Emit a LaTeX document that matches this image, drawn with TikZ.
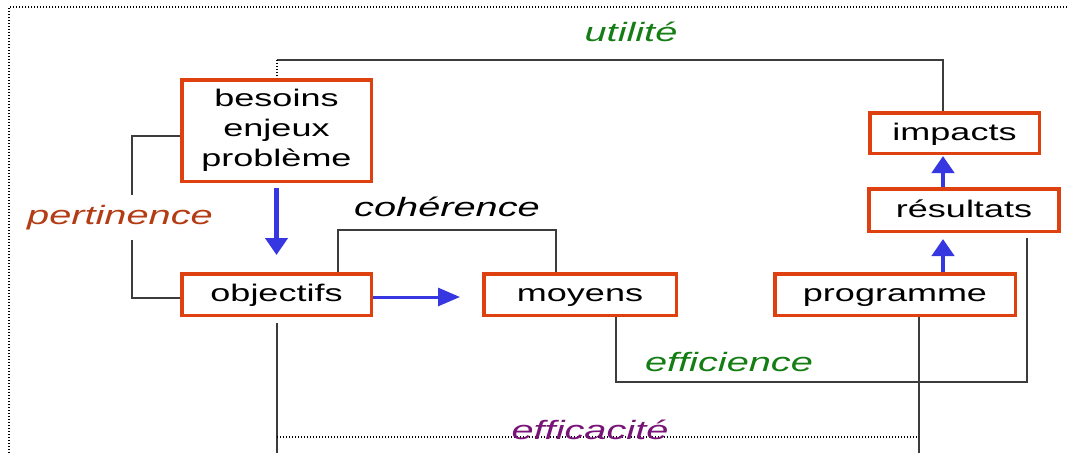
\documentclass[tikz,border=0pt]{standalone}
\usepackage{fontspec}
\setmainfont{Liberation Sans}[FakeStretch=1.5]
\usetikzlibrary{arrows.meta}
\definecolor{boxred}{RGB}{222,64,16}
\definecolor{arrblue}{RGB}{55,55,225}
\definecolor{lblgreen}{RGB}{20,125,20}
\definecolor{lblbrown}{RGB}{180,60,20}
\definecolor{lblpurple}{RGB}{120,20,120}
\definecolor{conngray}{RGB}{60,60,60}
\begin{document}
\begin{tikzpicture}[x=1pt,y=-1pt,
  box/.style={draw=boxred, line width=3.5pt, fill=white, inner sep=0pt, align=center,
    font=\fontsize{24}{30}\selectfont, text=black},
  onebox/.style={box, text height=17pt, text depth=3pt},
  conn/.style={draw=conngray, line width=1.4pt},
  dotline/.style={draw=black, line width=1.3pt, dash pattern=on 1.2pt off 1.8pt},
  varrow/.style={draw=arrblue, line width=4.5pt, -{Triangle[width=22pt,length=17pt]}},
  harrow/.style={draw=arrblue, line width=3pt, -{Triangle[width=18pt,length=22pt]}},
  lbl/.style={font=\fontsize{26.5}{30}\selectfont\itshape, inner sep=0pt}]
\useasboundingbox[fill=white] (0,0) rectangle (1070,453);
% frame
\coordinate (fr1) at (9,453); \coordinate (fr2) at (9,7); \coordinate (fr3) at (1067,7);
\draw[dotline] (fr1) -- (fr2) -- (fr3);
% boxes
\node[box, minimum width=189.5pt, minimum height=101.5pt] (bes) at (276.5,130.5) {besoins\\enjeux\\problème};
\node[onebox, minimum width=189.5pt, minimum height=41.5pt] (obj) at (276.5,294.5) {objectifs};
\node[onebox, minimum width=192.5pt, minimum height=41.5pt] (moy) at (580,294.5) {moyens};
\node[onebox, minimum width=240.5pt, minimum height=41.5pt] (prog) at (895,294.5) {programme};
\node[onebox, minimum width=190pt, minimum height=42.5pt] (res) at (964,210) {résultats};
\node[onebox, minimum width=169.5pt, minimum height=40.5pt] (imp) at (954.5,133) {impacts};
% utilité
\coordinate (u1) at (277,60); \coordinate (u2) at (943,60);
\draw[conn] (u1) -- (u2) -- (u2 |- imp.north);
\draw[dotline] (u1) -- (u1 |- bes.north);
% pertinence
\coordinate (p1) at (132,136); \coordinate (p2) at (132,195);
\coordinate (p3) at (132,240); \coordinate (p4) at (132,298);
\draw[conn] (bes.west |- p1) -- (p1) -- (p2);
\draw[conn] (p3) -- (p4) -- (obj.west |- p4);
% cohérence
\coordinate (c1) at (338,230); \coordinate (c2) at (556,230);
\draw[conn] (obj.north -| c1) -- (c1) -- (c2) -- (moy.north -| c2);
% efficience
\coordinate (e1) at (616,382); \coordinate (e2) at (1027,382); \coordinate (e3) at (1027,238);
\draw[conn] (moy.south -| e1) -- (e1) -- (e2) -- (e3);
% efficacité
\coordinate (f0) at (277,323); \coordinate (f1) at (277,453);
\coordinate (f2) at (919,453); \coordinate (f3) at (277,437); \coordinate (f4) at (919,437);
\draw[conn] (f0) -- (f1);
\draw[conn] (prog.south -| f2) -- (f2);
\draw[dotline] (f3) -- (f4);
% blue arrows
\draw[varrow, shorten <=5pt, shorten >=17pt] (bes.south) -- (obj.north);
\coordinate (h) at (0,297);
\draw[harrow, shorten >=22pt] (obj.east |- h) -- (moy.west |- h);
\coordinate (r) at (943,0);
\draw[varrow, shorten >=6pt] (prog.north -| r) -- (res.south -| r);
\draw[varrow, shorten >=1pt] (res.north -| r) -- (imp.south -| r);
% labels
\node[lbl, text=lblgreen] (lutil) at (631,32) {utilité};
\node[lbl, text=lblbrown] (lpert) at (120,218) {pertinence};
\node[lbl, text=black] (lcoh) at (447,207) {cohérence};
\node[lbl, text=lblgreen] (leffi) at (729,362) {efficience};
\node[lbl, text=lblpurple] (leffa) at (590,430) {efficacité};
\end{tikzpicture}
\end{document}
